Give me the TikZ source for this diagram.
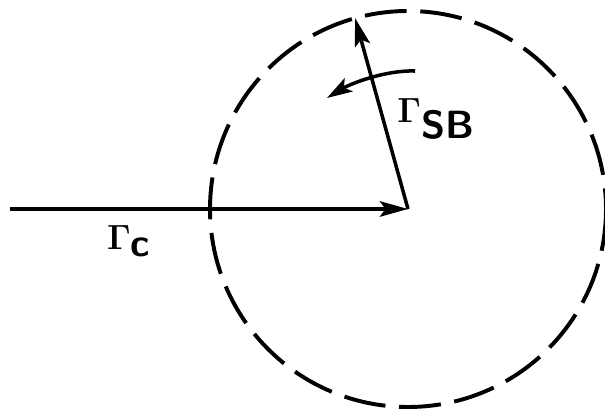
\documentclass[tikz,border=0pt]{standalone}
\usetikzlibrary{arrows.meta}

\begin{document}
\begin{tikzpicture}[
    x=0.025cm, y=-0.025cm,
    >={Stealth[length=20pt, width=11pt, inset=4pt]},
    vec/.style={draw=black, line width=2.5pt, ->},
    boundary/.style={draw=black, line width=2.8pt, dash pattern=on 1.05cm off 0.34cm},
    lbl/.style={font=\fontsize{28}{32}\selectfont, inner sep=0pt}
]
    \useasboundingbox (0,0) rectangle (605,412);

    % centre and vector ends
    \coordinate (O) at (408,209);
    \coordinate (W) at (10,209);
    \coordinate (T) at (355,18);
    \coordinate (R1) at (415,71);
    \coordinate (R2) at (327,98);

    % dashed circle
    \draw[boundary] (O) circle (198);

    % vectors
    \draw[vec] (W) -- (O);
    \draw[vec] (O) -- (T);

    % rotation sense
    \draw[vec, >={Stealth[length=18pt, width=11pt, inset=4pt]}] (R1) .. controls (385,70) and (350,84) .. (R2);

    % labels
    \node[lbl] (Gc) at (129,241) {$\mathbf{\Gamma}_{\textsf{\textbf{c}}}$};
    \node[lbl] (Gsb) at (436,119) {$\mathbf{\Gamma}_{\textsf{\textbf{SB}}}$};
\end{tikzpicture}
\end{document}
